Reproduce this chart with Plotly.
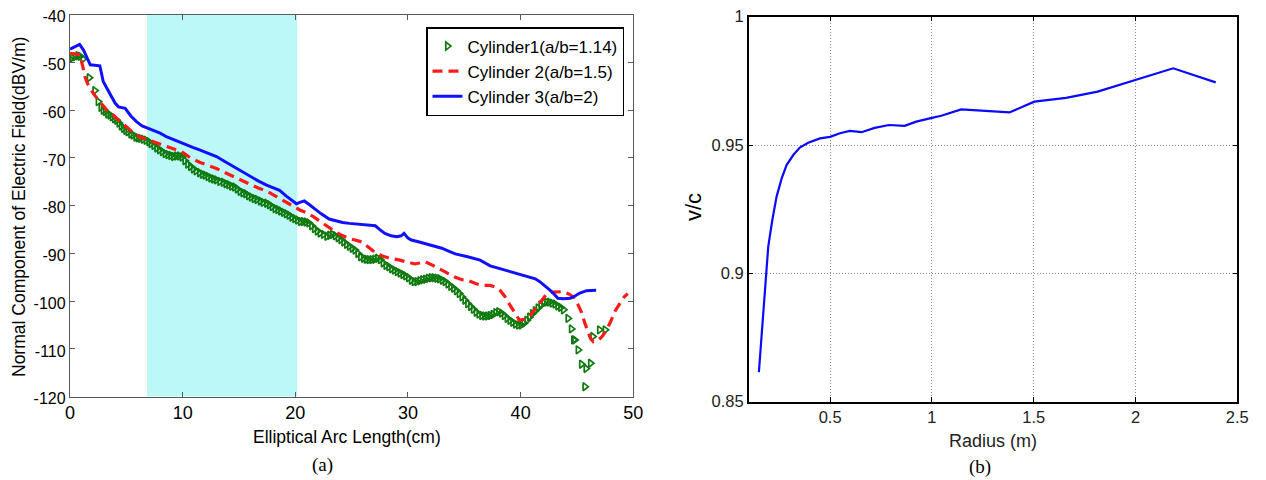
import plotly.graph_objects as go

# ---------------- Panel (a) data ----------------
cyl1_x = [0.0, 0.2, 0.45, 0.7, 0.9, 1.15, 1.7, 2.2, 2.5, 2.75, 2.95, 3.15, 3.35, 3.55, 3.75, 3.95,
          4.15, 4.35, 4.55, 4.75, 4.95, 5.15, 5.4, 5.6, 5.85, 6.05, 6.25, 6.5, 6.75, 7.0, 7.2, 7.45,
          7.7, 7.95, 8.2, 8.45, 8.7, 8.95, 9.2, 9.45, 9.7, 9.95, 10.2, 10.45, 10.7, 10.95, 11.2, 11.5,
          11.75, 12.0, 12.25, 12.5, 12.75, 13.0, 13.3, 13.6, 13.85, 14.1, 14.35, 14.6, 14.85, 15.1,
          15.35, 15.6, 15.85, 16.1, 16.35, 16.6, 16.9, 17.15, 17.45, 17.7, 17.95, 18.2, 18.45, 18.7,
          18.95, 19.2, 19.45, 19.7, 19.95, 20.2, 20.45, 20.7, 20.95, 21.2, 21.45, 21.7, 21.95, 22.2,
          22.5, 22.8, 23.05, 23.3, 23.55, 23.8, 24.05, 24.3, 24.55, 24.8, 25.05, 25.3, 25.55, 25.8,
          26.05, 26.3, 26.55, 26.8, 27.05, 27.3, 27.55, 27.8, 28.05, 28.3, 28.55, 28.8, 29.05, 29.3,
          29.55, 29.8, 30.05, 30.3, 30.55, 30.8, 31.05, 31.3, 31.55, 31.8, 32.05, 32.3, 32.55, 32.8,
          33.05, 33.3, 33.55, 33.8, 34.05, 34.3, 34.55, 34.8, 35.05, 35.3, 35.55, 35.8, 36.05, 36.3,
          36.55, 36.8, 37.05, 37.3, 37.55, 37.8, 38.05, 38.3, 38.55, 38.8, 39.05, 39.3, 39.55, 39.8,
          40.05, 40.3, 40.55, 40.8, 41.05, 41.3, 41.55, 41.8, 42.05, 42.3, 42.55, 42.8, 43.05, 43.3,
          43.55, 43.8, 44.2, 44.5, 44.7, 44.8, 45.1, 45.4, 45.7, 45.8, 46.2, 46.4, 47.0, 47.5]
cyl1_y = [-49.3, -49.0, -48.8, -48.6, -48.7, -49.3, -53.2, -55.9, -58.2, -59.4, -60.0, -60.3, -60.8,
          -61.0, -61.4, -61.8, -62.1, -62.7, -63.3, -63.8, -64.2, -64.5, -65.0, -65.2, -65.6, -65.8,
          -65.9, -66.1, -66.3, -66.6, -67.0, -67.4, -67.9, -68.3, -68.7, -69.1, -69.3, -69.5, -69.7,
          -69.6, -69.6, -69.8, -70.6, -71.3, -71.8, -72.3, -72.7, -73.1, -73.4, -73.6, -73.9, -74.2,
          -74.4, -74.6, -74.9, -75.1, -75.4, -75.6, -75.9, -76.1, -76.5, -77.0, -77.3, -77.5, -77.9,
          -78.2, -78.5, -78.7, -79.0, -79.3, -79.5, -79.8, -80.2, -80.6, -80.8, -81.1, -81.4, -81.7,
          -82.0, -82.4, -82.7, -83.0, -83.3, -83.3, -83.4, -83.6, -84.2, -84.8, -85.3, -85.7, -86.0,
          -86.4, -86.2, -86.0, -86.3, -86.7, -87.1, -87.6, -88.1, -88.5, -88.9, -89.3, -90.0, -90.7,
          -91.0, -91.2, -91.3, -91.3, -91.2, -91.0, -91.3, -92.0, -92.5, -92.8, -93.2, -93.5, -93.8,
          -94.1, -94.4, -94.7, -95.1, -95.6, -95.9, -95.9, -95.7, -95.5, -95.4, -95.2, -95.1, -95.1,
          -95.2, -95.3, -95.6, -95.9, -96.4, -96.9, -97.3, -97.8, -98.4, -99.1, -99.8, -100.5, -101.1,
          -101.7, -102.3, -102.7, -103.0, -103.1, -103.1, -103.0, -102.8, -102.4, -102.2, -102.5,
          -103.0, -103.6, -104.0, -104.4, -104.8, -105.0, -105.0, -104.6, -104.0, -103.3, -102.6,
          -102.0, -101.4, -100.8, -100.4, -100.2, -100.2, -100.4, -100.6, -101.0, -101.3, -101.8,
          -103.6, -105.8, -108.1, -108.1, -110.2, -113.2, -117.9, -114.1, -113.0, -107.4, -106.0,
          -106.0]

cyl2_x = [0, 0.5, 0.9, 1.1, 1.33, 1.55, 1.77, 2.2, 2.66, 3.2, 3.84, 4.4, 5.03, 5.6, 6.21, 6.8, 7.39,
          8.0, 8.58, 9.2, 9.91, 10.7, 11.5, 12.3, 13.0, 13.7, 14.5, 15.2, 16.0, 16.7, 17.45, 18.2,
          18.9, 19.6, 20.4, 21.0, 21.6, 22.2, 22.8, 23.4, 23.96, 24.7, 25.3, 25.9, 26.5, 27.1, 27.8,
          28.5, 29.1, 29.7, 30.2, 30.6, 31.0, 31.5, 32.2, 33.0, 33.6, 34.2, 34.8, 35.3, 36.0, 36.6,
          37.3, 37.8, 38.2, 38.6, 39.0, 39.4, 39.9, 40.3, 40.8, 41.3, 41.8, 42.3, 42.8, 43.3, 43.8,
          44.3, 44.7, 45.1, 45.4, 45.7, 45.95, 46.2, 46.45, 46.8, 47.2, 47.6, 48.0, 48.4, 48.8,
          49.2, 49.5]
cyl2_y = [-48.1, -48.2, -48.4, -50.5, -53.0, -54.4, -55.4, -56.9, -58.2, -59.8, -61.0, -62.3, -63.5,
          -64.7, -65.6, -66.1, -66.6, -67.1, -67.6, -68.1, -68.7, -70.0, -70.9, -71.6, -72.2, -73.0,
          -73.9, -74.8, -75.6, -76.3, -76.9, -77.9, -78.8, -79.8, -80.9, -81.5, -82.3, -83.3, -84.3,
          -85.2, -86.0, -86.8, -87.2, -87.6, -88.7, -89.8, -90.6, -91.1, -91.3, -91.6, -92.0, -92.2,
          -92.0, -91.7, -92.5, -93.5, -94.3, -95.0, -95.5, -95.6, -96.3, -96.7, -96.7, -97.1, -97.8,
          -99.0, -100.6, -102.2, -104.0, -103.8, -103.2, -101.6, -100.1, -98.5, -98.1, -98.0, -98.0,
          -98.5, -99.2, -100.8, -102.3, -104.6, -106.3, -107.8, -108.5, -108.3, -107.5, -106.2,
          -104.2, -102.0, -100.5, -99.1, -98.4]

cyl3_x = [0, 0.4, 0.85, 1.2, 1.5, 1.8, 2.65, 2.95, 3.3, 3.7, 4.0, 4.3, 4.9, 5.4, 5.9, 6.4, 6.8, 7.4,
          8.0, 8.6, 9.2, 9.8, 10.35, 10.9, 11.5, 12.2, 13.0, 13.7, 14.5, 15.2, 16.0, 16.7, 17.45,
          18.0, 18.6, 19.2, 19.7, 20.1, 20.4, 20.8, 21.2, 21.6, 22.3, 23.0, 23.5, 24.2, 24.8, 25.5,
          26.3, 27.1, 27.5, 27.95, 28.5, 29.0, 29.4, 29.65, 30.0, 30.3, 31.0, 31.5, 32.2, 33.0,
          33.6, 34.2, 35.3, 36.4, 37.3, 38.2, 39.0, 39.9, 40.8, 41.3, 41.7, 42.2, 42.6, 43.0, 43.3,
          43.8, 44.4, 44.9, 45.25, 45.85, 46.3, 46.7]
cyl3_y = [-47.2, -46.8, -46.2, -47.4, -49.0, -50.5, -50.7, -54.0, -55.5, -57.2, -58.5, -59.3, -59.6,
          -61.2, -62.4, -63.3, -63.7, -64.2, -64.8, -65.6, -66.2, -66.8, -67.4, -67.8, -68.3, -69.0,
          -69.7, -70.7, -71.8, -72.8, -73.9, -74.8, -75.7, -76.3, -76.8, -78.0, -79.0, -79.6, -79.3,
          -79.0, -79.7, -80.5, -81.7, -82.8, -83.1, -83.5, -83.7, -83.9, -84.1, -84.2, -85.0, -85.8,
          -86.3, -86.5, -86.3, -85.8, -86.8, -87.2, -87.6, -87.9, -88.4, -88.9, -89.5, -90.1, -90.7,
          -91.4, -92.6, -93.2, -93.8, -94.3, -94.9, -95.3, -95.9, -96.8, -97.7, -98.6, -99.4, -99.5,
          -99.4, -98.8, -98.3, -97.8, -97.7, -97.7]

band_x = [6.83, 20.17]
a_xticks = [0, 10, 20, 30, 40, 50]
a_yticks = [-120, -110, -100, -90, -80, -70, -60, -50, -40]

# ---------------- Panel (b) data ----------------
radius = [0.150, 0.168, 0.185, 0.196, 0.216, 0.237, 0.262, 0.286, 0.319, 0.351, 0.392, 0.45, 0.5,
          0.548, 0.597, 0.654, 0.719, 0.789, 0.866, 0.923, 1.0, 1.046, 1.144, 1.381, 1.503, 1.659,
          1.814, 1.994, 2.185, 2.394]
vc = [0.8615, 0.8818, 0.900, 0.9104, 0.9208, 0.9299, 0.937, 0.9422, 0.9461, 0.949, 0.9509, 0.9526,
      0.9532, 0.9546, 0.9555, 0.955, 0.9567, 0.9578, 0.9575, 0.9591, 0.9606, 0.9614, 0.9639,
      0.9627, 0.9669, 0.9684, 0.9708, 0.9753, 0.9799, 0.9744]
b_xticks = [0.5, 1, 1.5, 2, 2.5]
b_xlabels = ["0.5", "1", "1.5", "2", "2.5"]
b_yticks = [0.85, 0.9, 0.95, 1.0]
b_ylabels = ["0.85", "0.9", "0.95", "1"]

# The page body has an 8px default margin, so the figure is drawn 8px in from the corner.
OFF = 8
W, H = 1266 - OFF, 480 - OFF
SANS = "Liberation Sans, Arial, sans-serif"
SERIF = "Liberation Serif, DejaVu Serif, serif"


def px(sx):
    return (sx - OFF) / W


def py(sy):
    return 1 - (sy - OFF) / H


fig = go.Figure()
fig.add_trace(go.Scatter(x=cyl1_x, y=cyl1_y, mode="markers", name="Cylinder1(a/b=1.14)",
                         marker=dict(symbol="triangle-right-open", size=7, color="#0f7a0f",
                                     line=dict(width=1.7, color="#0f7a0f")),
                         xaxis="x", yaxis="y"))
fig.add_trace(go.Scatter(x=cyl2_x, y=cyl2_y, mode="lines", name="Cylinder 2(a/b=1.5)",
                         line=dict(color="#ff1a1a", width=3.2, dash="10px,6px"),
                         xaxis="x", yaxis="y"))
fig.add_trace(go.Scatter(x=cyl3_x, y=cyl3_y, mode="lines", name="Cylinder 3(a/b=2)",
                         line=dict(color="#1010ff", width=3),
                         xaxis="x", yaxis="y"))
fig.add_trace(go.Scatter(x=radius, y=vc, mode="lines", showlegend=False,
                         line=dict(color="#0a0aff", width=2.2),
                         xaxis="x2", yaxis="y2"))

fig.add_shape(type="rect", xref="x", yref="y", x0=band_x[0], x1=band_x[1], y0=-120, y1=-40,
              fillcolor="#bdf8f8", line=dict(width=0), layer="below")

axis_a = dict(showline=True, linecolor="#5a5a5a", linewidth=1.3, mirror="ticks", ticks="inside",
              ticklen=5, tickcolor="#5a5a5a", showgrid=False, zeroline=False, automargin=False,
              ticklabeloverflow="allow",
              tickfont=dict(family=SANS, size=18, color="black"))
axis_b = dict(showline=True, linecolor="black", linewidth=1.5, mirror="ticks", ticks="inside",
              ticklen=5, tickcolor="black", showgrid=True, gridcolor="#8a8a8a", griddash="1px,2px",
              gridwidth=1, zeroline=False, automargin=False, ticklabeloverflow="allow",
              tickfont=dict(family=SANS, size=16.5, color="#222"))

fig.update_layout(
    width=W, height=H, margin=dict(l=0, r=0, t=0, b=0, pad=0, autoexpand=False),
    paper_bgcolor="white", plot_bgcolor="white",
    xaxis=dict(axis_a, domain=[px(70), px(633.3)], range=[0, 50], tickvals=a_xticks,
               ticktext=[str(v) for v in a_xticks], anchor="y"),
    yaxis=dict(axis_a, domain=[py(396.7), py(14.7)], range=[-120, -40],
               tickvals=a_yticks, ticktext=[str(v) for v in a_yticks], anchor="x",
               ticklabelshift=2, tickfont=dict(family=SANS, size=16, color="black")),
    xaxis2=dict(axis_b, domain=[px(748.7), px(1237.3)], range=[0.1, 2.5], tickvals=b_xticks,
                ticktext=b_xlabels, anchor="y2"),
    yaxis2=dict(axis_b, domain=[py(401.7), py(16.7)], range=[0.85, 1.0],
                tickvals=b_yticks, ticktext=b_ylabels, anchor="x2"),
    legend=dict(x=px(624), y=py(27), xanchor="right", yanchor="top",
                bgcolor="white", bordercolor="black", borderwidth=1.5,
                font=dict(family=SANS, size=17, color="black"), tracegroupgap=0,
                itemwidth=30),
    showlegend=True,
)

ann = [
    dict(text="Normal Component of Electric Field(dBV/m)", x=px(19), y=py(207), textangle=-90,
         font=dict(family=SANS, size=17.5, color="black")),
    dict(text="Elliptical Arc Length(cm)", x=px(347), y=py(437),
         font=dict(family=SANS, size=17.5, color="black")),
    dict(text="(a)", x=px(322), y=py(465), font=dict(family=SERIF, size=19, color="black")),
    dict(text="v/c", x=px(693), y=py(207), textangle=-90,
         font=dict(family=SANS, size=22, color="black")),
    dict(text="Radius (m)", x=px(993), y=py(441),
         font=dict(family=SANS, size=18, color="#222")),
    dict(text="(b)", x=px(980), y=py(467), font=dict(family=SERIF, size=19, color="black")),
]
for a in ann:
    a.update(xref="paper", yref="paper", showarrow=False, xanchor="center", yanchor="middle")
fig.update_layout(annotations=ann)

fig.write_html("out.html")
